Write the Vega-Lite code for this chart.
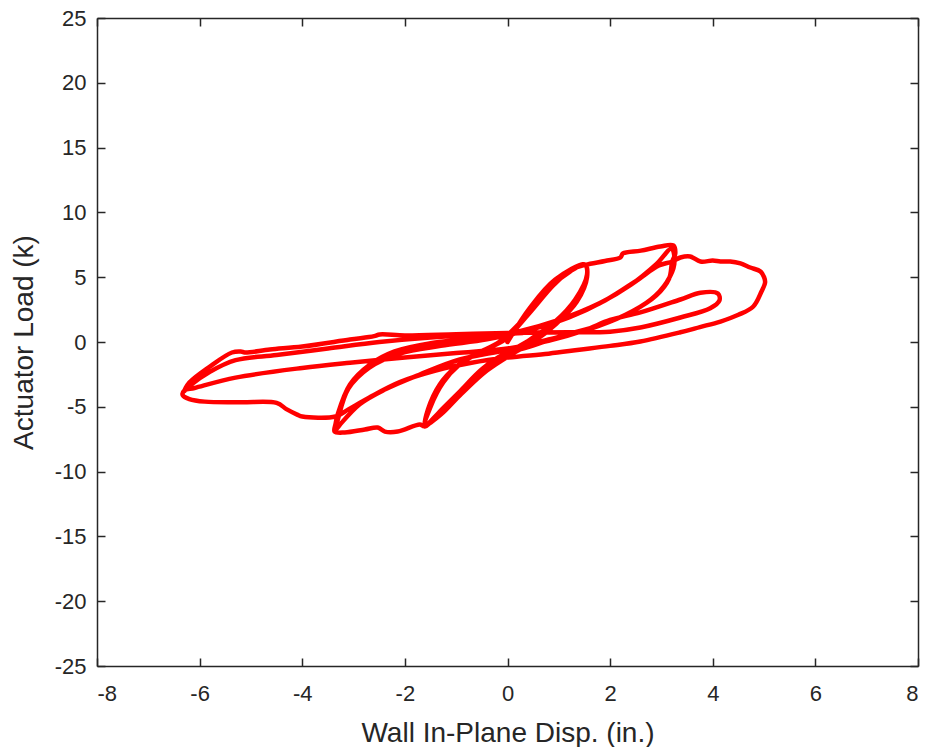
{
  "$schema": "https://vega.github.io/schema/vega-lite/v6.json",
  "autosize": "none",
  "width": 821,
  "height": 648,
  "padding": {"left": 97, "top": 18, "right": 7, "bottom": 81},
  "background": "white",
  "config": {
    "view": {"stroke": null},
    "font": "Liberation Sans",
    "axis": {
      "domainColor": "#262626",
      "domainWidth": 1.5,
      "tickColor": "#262626",
      "tickWidth": 1.5,
      "tickSize": -8,
      "labelColor": "#262626",
      "labelFont": "Liberation Sans",
      "labelFontSize": 22,
      "titleFont": "Liberation Sans",
      "titleFontSize": 28,
      "titleFontWeight": "normal",
      "titleColor": "#262626",
      "gridColor": "#dfdfdf",
      "gridWidth": 1
    }
  },
  "data": {"values": [
    {"i":1,"x":0.0,"y":0.0},{"i":2,"x":0.44,"y":2.66},{"i":3,"x":0.93,"y":4.82},{"i":4,"x":1.51,"y":5.98},
    {"i":5,"x":1.55,"y":5.21},{"i":6,"x":1.32,"y":3.28},{"i":7,"x":0.93,"y":1.58},{"i":8,"x":0.44,"y":0.19},
    {"i":9,"x":0.05,"y":-0.73},{"i":10,"x":-0.44,"y":-1.97},{"i":11,"x":-0.93,"y":-3.82},{"i":12,"x":-1.32,"y":-5.36},
    {"i":13,"x":-1.61,"y":-6.52},{"i":14,"x":-1.55,"y":-5.21},{"i":15,"x":-1.32,"y":-3.28},{"i":16,"x":-1.02,"y":-1.97},
    {"i":17,"x":-0.63,"y":-0.96},{"i":18,"x":-0.15,"y":0.04},{"i":19,"x":0.34,"y":1.89},{"i":20,"x":0.83,"y":4.21},
    {"i":21,"x":1.22,"y":5.44},{"i":22,"x":1.51,"y":5.98},{"i":23,"x":1.55,"y":5.0},{"i":24,"x":1.35,"y":3.1},
    {"i":25,"x":0.95,"y":1.4},{"i":26,"x":0.5,"y":0.0},{"i":27,"x":0.1,"y":-0.9},{"i":28,"x":-0.4,"y":-2.2},
    {"i":29,"x":-0.9,"y":-4.0},{"i":30,"x":-1.3,"y":-5.6},{"i":31,"x":-1.6,"y":-6.4},{"i":32,"x":-1.5,"y":-5.0},
    {"i":33,"x":-1.25,"y":-3.1},{"i":34,"x":-0.95,"y":-1.8},{"i":35,"x":-0.55,"y":-0.8},{"i":36,"x":-0.05,"y":0.2},
    {"i":37,"x":0.4,"y":2.1},{"i":38,"x":0.9,"y":4.4},{"i":39,"x":1.25,"y":5.6},{"i":40,"x":1.52,"y":5.95},
    {"i":41,"x":1.9,"y":6.25},{"i":42,"x":2.2,"y":6.52},{"i":43,"x":2.25,"y":6.83},{"i":44,"x":2.6,"y":7.05},
    {"i":45,"x":2.98,"y":7.37},{"i":46,"x":3.23,"y":7.45},{"i":47,"x":3.27,"y":6.83},{"i":48,"x":3.21,"y":6.21},
    {"i":49,"x":3.15,"y":4.9},{"i":50,"x":2.9,"y":3.6},{"i":51,"x":2.4,"y":2.3},{"i":52,"x":1.8,"y":1.3},
    {"i":53,"x":1.0,"y":0.4},{"i":54,"x":0.4,"y":-0.4},{"i":55,"x":-0.1,"y":-1.0},{"i":56,"x":-0.5,"y":-2.1},
    {"i":57,"x":-0.95,"y":-3.9},{"i":58,"x":-1.35,"y":-5.5},{"i":59,"x":-1.62,"y":-6.5},{"i":60,"x":-1.71,"y":-6.37},
    {"i":61,"x":-2.14,"y":-6.91},{"i":62,"x":-2.39,"y":-6.91},{"i":63,"x":-2.53,"y":-6.6},{"i":64,"x":-2.78,"y":-6.75},
    {"i":65,"x":-3.17,"y":-6.98},{"i":66,"x":-3.37,"y":-6.91},{"i":67,"x":-3.35,"y":-6.3},{"i":68,"x":-3.31,"y":-5.6},
    {"i":69,"x":-3.07,"y":-3.28},{"i":70,"x":-2.68,"y":-1.74},{"i":71,"x":-2.2,"y":-0.73},{"i":72,"x":-1.5,"y":-0.1},
    {"i":73,"x":-0.6,"y":0.3},{"i":74,"x":0.2,"y":0.8},{"i":75,"x":1.0,"y":1.7},{"i":76,"x":1.8,"y":3.0},
    {"i":77,"x":2.4,"y":4.4},{"i":78,"x":2.9,"y":6.0},{"i":79,"x":3.2,"y":7.2},{"i":80,"x":3.25,"y":6.0},
    {"i":81,"x":3.1,"y":4.6},{"i":82,"x":2.8,"y":3.3},{"i":83,"x":2.3,"y":2.1},{"i":84,"x":1.6,"y":1.0},
    {"i":85,"x":0.8,"y":0.2},{"i":86,"x":0.0,"y":-0.6},{"i":87,"x":-0.93,"y":-1.35},{"i":88,"x":-1.71,"y":-2.51},
    {"i":89,"x":-2.39,"y":-3.67},{"i":90,"x":-2.88,"y":-4.8},{"i":91,"x":-3.27,"y":-6.4},{"i":92,"x":-3.35,"y":-6.8},
    {"i":93,"x":-3.3,"y":-5.9},{"i":94,"x":-3.1,"y":-3.6},{"i":95,"x":-2.7,"y":-2.0},{"i":96,"x":-2.1,"y":-0.9},
    {"i":97,"x":-1.3,"y":-0.3},{"i":98,"x":-0.4,"y":0.2},{"i":99,"x":0.4,"y":0.9},{"i":100,"x":1.2,"y":1.9},
    {"i":101,"x":1.9,"y":3.2},{"i":102,"x":2.5,"y":4.7},{"i":103,"x":2.95,"y":5.9},{"i":104,"x":3.21,"y":6.21},
    {"i":105,"x":3.37,"y":6.52},{"i":106,"x":3.56,"y":6.6},{"i":107,"x":3.76,"y":6.21},{"i":108,"x":4.0,"y":6.28},
    {"i":109,"x":4.15,"y":6.21},{"i":110,"x":4.34,"y":6.21},{"i":111,"x":4.54,"y":6.06},{"i":112,"x":4.73,"y":5.75},
    {"i":113,"x":4.93,"y":5.44},{"i":114,"x":5.0,"y":5.0},{"i":115,"x":5.02,"y":4.6},{"i":116,"x":4.95,"y":3.9},
    {"i":117,"x":4.79,"y":2.74},{"i":118,"x":4.5,"y":2.1},{"i":119,"x":4.15,"y":1.58},{"i":120,"x":3.75,"y":1.15},
    {"i":121,"x":3.37,"y":0.75},{"i":122,"x":2.59,"y":0.04},{"i":123,"x":2.0,"y":-0.3},{"i":124,"x":1.4,"y":-0.6},
    {"i":125,"x":0.8,"y":-0.9},{"i":126,"x":0.0,"y":-1.2},{"i":127,"x":-0.7,"y":-1.6},{"i":128,"x":-1.4,"y":-2.2},
    {"i":129,"x":-2.1,"y":-3.1},{"i":130,"x":-2.7,"y":-4.3},{"i":131,"x":-3.1,"y":-5.2},{"i":132,"x":-3.35,"y":-5.75},
    {"i":133,"x":-4.0,"y":-5.75},{"i":134,"x":-4.1,"y":-5.6},{"i":135,"x":-4.3,"y":-5.2},{"i":136,"x":-4.5,"y":-4.7},
    {"i":137,"x":-5.2,"y":-4.65},{"i":138,"x":-5.9,"y":-4.6},{"i":139,"x":-6.2,"y":-4.4},{"i":140,"x":-6.33,"y":-4.1},
    {"i":141,"x":-6.3,"y":-3.75},{"i":142,"x":-6.1,"y":-3.55},{"i":143,"x":-5.3,"y":-2.75},{"i":144,"x":-4.0,"y":-2.0},
    {"i":145,"x":-3.07,"y":-1.6},{"i":146,"x":-2.0,"y":-1.2},{"i":147,"x":-1.0,"y":-0.85},{"i":148,"x":0.0,"y":-0.5},
    {"i":149,"x":0.8,"y":0.1},{"i":150,"x":1.5,"y":0.9},{"i":151,"x":2.0,"y":1.7},{"i":152,"x":2.59,"y":2.28},
    {"i":153,"x":3.37,"y":3.28},{"i":154,"x":3.76,"y":3.8},{"i":155,"x":4.1,"y":3.74},{"i":156,"x":4.13,"y":3.2},
    {"i":157,"x":3.95,"y":2.6},{"i":158,"x":3.37,"y":1.89},{"i":159,"x":2.59,"y":1.12},{"i":160,"x":2.0,"y":0.8},
    {"i":161,"x":1.2,"y":0.75},{"i":162,"x":0.0,"y":0.7},{"i":163,"x":-1.0,"y":0.6},{"i":164,"x":-2.0,"y":0.5},
    {"i":165,"x":-2.49,"y":0.58},{"i":166,"x":-2.6,"y":0.45},{"i":167,"x":-3.07,"y":0.19},{"i":168,"x":-4.0,"y":-0.35},
    {"i":169,"x":-4.63,"y":-0.58},{"i":170,"x":-5.12,"y":-0.81},{"i":171,"x":-5.2,"y":-0.73},{"i":172,"x":-5.37,"y":-0.81},
    {"i":173,"x":-5.8,"y":-1.89},{"i":174,"x":-6.2,"y":-3.13},{"i":175,"x":-6.3,"y":-3.8},{"i":176,"x":-6.2,"y":-3.4},
    {"i":177,"x":-5.8,"y":-2.3},{"i":178,"x":-5.3,"y":-1.4},{"i":179,"x":-4.5,"y":-1.0},{"i":180,"x":-3.5,"y":-0.5},
    {"i":181,"x":-2.5,"y":0.0},{"i":182,"x":-1.5,"y":0.35},{"i":183,"x":-0.5,"y":0.55},{"i":184,"x":0.3,"y":0.7}
  ]},
  "layer": [
    {
      "mark": {"type": "line", "strokeOpacity": 0},
      "encoding": {
        "x": {"field": "x", "type": "quantitative", "scale": {"domain": [-8, 8], "nice": false},
              "axis": {"orient": "top", "labels": false, "grid": false, "title": null, "values": [-8,-6,-4,-2,0,2,4,6,8]}},
        "y": {"field": "y", "type": "quantitative", "scale": {"domain": [-25, 25], "nice": false},
              "axis": {"orient": "right", "labels": false, "grid": false, "title": null, "values": [-25,-20,-15,-10,-5,0,5,10,15,20,25]}},
        "order": {"field": "i", "type": "quantitative"}
      }
    },
    {
      "mark": {"type": "line", "color": "#ff0000", "strokeWidth": 4.5, "strokeJoin": "round", "strokeCap": "round", "interpolate": "catmull-rom"},
      "encoding": {
        "x": {"field": "x", "type": "quantitative", "scale": {"domain": [-8, 8], "nice": false},
              "axis": {"orient": "bottom", "title": "Wall In-Plane Disp. (in.)", "values": [-8,-6,-4,-2,0,2,4,6,8], "labelExpr": "'' + datum.value", "labelPadding": 25, "titlePadding": 15}},
        "y": {"field": "y", "type": "quantitative", "scale": {"domain": [-25, 25], "nice": false},
              "axis": {"orient": "left", "title": "Actuator Load (k)", "values": [-25,-20,-15,-10,-5,0,5,10,15,20,25], "labelExpr": "'' + datum.value", "labelPadding": 19, "titlePadding": 16}},
        "order": {"field": "i", "type": "quantitative"}
      }
    }
  ],
  "resolve": {"axis": {"x": "independent", "y": "independent"}}
}
